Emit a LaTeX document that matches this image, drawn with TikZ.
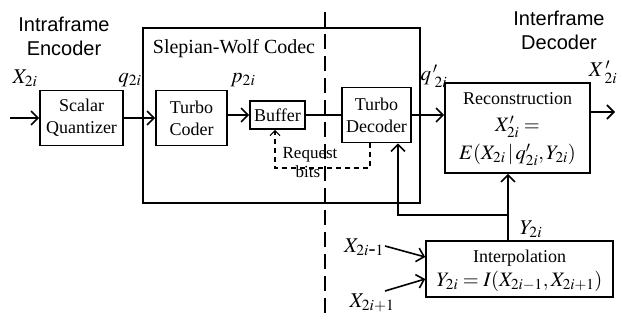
\documentclass[tikz,border=0pt]{standalone}
\usepackage{mathptmx}
\usepackage{fontspec}
\setmainfont{Liberation Serif}
\setsansfont{Liberation Sans}
\usetikzlibrary{arrows.meta,calc}
\begin{document}
\begin{tikzpicture}[x=1pt,y=-1pt,
  box/.style={draw, line width=1.6pt, inner sep=0pt, align=center, font=\fontsize{18}{22}\selectfont},
  arr/.style={line width=1.6pt, -{Straight Barb[length=7pt,width=14pt]}},
  ln/.style={line width=1.6pt},
  dsh/.style={line width=1.2pt, dash pattern=on 5pt off 4pt},
  lbl/.style={inner sep=0pt, font=\fontsize{21}{22}\selectfont},
  txt/.style={inner sep=0pt, font=\fontsize{18}{20}\selectfont},
  fml/.style={inner sep=0pt, font=\fontsize{20.5}{22}\selectfont},
  head/.style={inner sep=0pt, align=center, font=\sffamily\fontsize{20}{24}\selectfont},
  small/.style={inner sep=0pt, font=\fontsize{17}{18}\selectfont}]
\useasboundingbox (0,0) rectangle (622,320);
% outer Slepian-Wolf box
\node[draw, line width=1.1pt, minimum width=277pt, minimum height=175pt, inner sep=0pt] (sw) at (281.5,115.5) {};
\node[inner sep=0pt, font=\fontsize{20}{22}\selectfont] (swl) at (234,49) {Slepian-Wolf Codec};
% headings
\node[head] (enc) at (64,36) {Intraframe\\Encoder};
\node[head] (dec) at (559,30) {Interframe\\Decoder};
% boxes
\node[box, minimum width=83pt, minimum height=55pt] (sq) at (81.5,118) {Scalar\\Quantizer};
\node[box, minimum width=71pt, minimum height=55pt] (tc) at (191.5,118) {Turbo\\Coder};
\node[box, minimum width=55pt, minimum height=28pt] (buf) at (277.5,115) {Buffer};
\node[box, minimum width=69pt, minimum height=55pt] (td) at (376.5,115) {Turbo\\Decoder};
\node[box, minimum width=145pt, minimum height=90pt] (rec) at (517.5,128) {};
\node[txt] (rec1) at (517.5,99) {Reconstruction};
\node[fml] (rec2) at (517.5,127) {$X'_{2i}=$};
\node[fml] (rec3) at (517.5,155) {$E(X_{2i}\,|\,q'_{2i},Y_{2i})$};
\node[box, minimum width=187pt, minimum height=56pt] (int) at (519.5,269) {};
\node[txt] (int1) at (519.5,258) {Interpolation};
\node[fml] (int2) at (519.5,281) {$Y_{2i}=I(X_{2i-1},X_{2i+1})$};
% dashed separator
\coordinate (dtop) at (325,12);
\coordinate (dbot) at (325,320);
\draw[line width=2pt, dash pattern=on 15pt off 7pt] (dtop) -- (dbot);
% main flow
\coordinate (in) at (10,118);
\coordinate (out) at (615,112);
\draw[arr] (in) -- (sq.west);
\draw[arr] (sq.east) -- (tc.west);
\draw[arr] (tc.east |- buf.west) -- (buf.west);
\draw[ln] (buf.east) -- (td.west);
\draw[arr] (td.east) -- (rec.west |- td.east);
\draw[arr] (rec.east |- out) -- (out);
% request bits
\coordinate (r1) at (370,168);
\coordinate (r2) at (275,168);
\draw[dsh, -{Straight Barb[length=5pt,width=10pt]}] (td.south -| r1) -- (r1) -- (r2) -- (buf.south -| r2);
\node[small] (req) at (310,155) {Request};
\node[small] (bits) at (308,172) {bits};
% side information
\coordinate (y2) at (508,215);
\coordinate (fb) at (398,215);
\draw[arr] (int.north -| y2) -- (rec.south -| y2);
\draw[arr] (y2) -- (fb) -- (fb |- td.south);
% inputs to interpolation
\coordinate (a1) at (385,246);
\coordinate (a2) at (385,291);
\draw[arr] (a1) -- ($(int.west)+(0,-12)$);
\draw[arr] (a2) -- ($(int.west)+(0,10)$);
% labels
\node[lbl] (lx) at (25,78) {$X_{2i}$};
\node[lbl] (lq) at (130,80) {$q_{2i}$};
\node[lbl] (lp) at (243,80) {$p_{2i}$};
\node[lbl] (lqq) at (434,76) {$q^{\,\prime}_{\;2i}$};
\node[lbl] (lxx) at (603,72) {$X^{\,\prime}_{\;2i}$};
\node[lbl] (ly) at (531,229) {$Y_{2i}$};
\node[lbl] (lxm) at (364,247) {$X_{2i\mbox{-}1}$};
\node[lbl] (lxp) at (372,303) {$X_{2i+1}$};
\end{tikzpicture}
\end{document}
